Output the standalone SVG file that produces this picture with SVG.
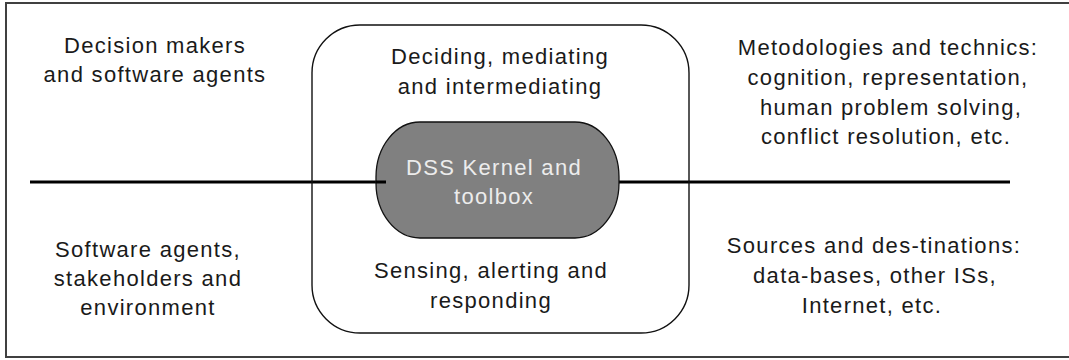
<svg xmlns="http://www.w3.org/2000/svg" width="1069" height="360" viewBox="0 0 1069 360">
<style>
.t{font-family:"Liberation Sans",Arial,sans-serif;font-size:22px;letter-spacing:1.3px;fill:#1a1a1a;text-anchor:middle}
.k{fill:#ececec}
.ln{stroke:#000;stroke-width:3;fill:none}
</style>
<rect x="0" y="0" width="1069" height="360" fill="#fff"/>
<g id="frame"><rect x="6" y="3" width="1080" height="354" fill="none" stroke="#404040" stroke-width="2"/></g>
<g id="connectors">
<line class="ln" x1="30" y1="182" x2="386" y2="182"/>
<line class="ln" x1="618" y1="182" x2="1010" y2="182"/>
</g>
<g id="system">
<rect x="312" y="25" width="377" height="308" rx="48" ry="48" fill="none" stroke="#111" stroke-width="1.4"/>
</g>
<g id="kernel">
<rect x="376" y="122" width="243" height="116" rx="44" ry="55" fill="#808080" stroke="#111" stroke-width="1.3"/>
<line class="ln" x1="376" y1="182" x2="386" y2="182"/>
<text class="t k" x="494" y="175">DSS Kernel and</text>
<text class="t k" x="494" y="204">toolbox</text>
</g>
<g id="deciding">
<text class="t" x="500" y="64">Deciding, mediating</text>
<text class="t" x="500" y="94">and intermediating</text>
</g>
<g id="sensing">
<text class="t" x="491" y="278">Sensing, alerting and</text>
<text class="t" x="491" y="308">responding</text>
</g>
<g id="decision-makers">
<text class="t" x="155" y="53">Decision makers</text>
<text class="t" x="155" y="82">and software agents</text>
</g>
<g id="software-agents">
<text class="t" x="148" y="257">Software agents,</text>
<text class="t" x="148" y="286">stakeholders and</text>
<text class="t" x="148" y="315">environment</text>
</g>
<g id="methodologies">
<text class="t" x="888" y="55">Metodologies and technics:</text>
<text class="t" x="888" y="85">cognition, representation,</text>
<text class="t" x="891" y="115">human problem solving,</text>
<text class="t" x="886" y="144">conflict resolution, etc.</text>
</g>
<g id="sources">
<text class="t" x="874" y="253">Sources and des-tinations:</text>
<text class="t" x="875" y="283">data-bases, other ISs,</text>
<text class="t" x="872" y="313">Internet, etc.</text>
</g>
</svg>
